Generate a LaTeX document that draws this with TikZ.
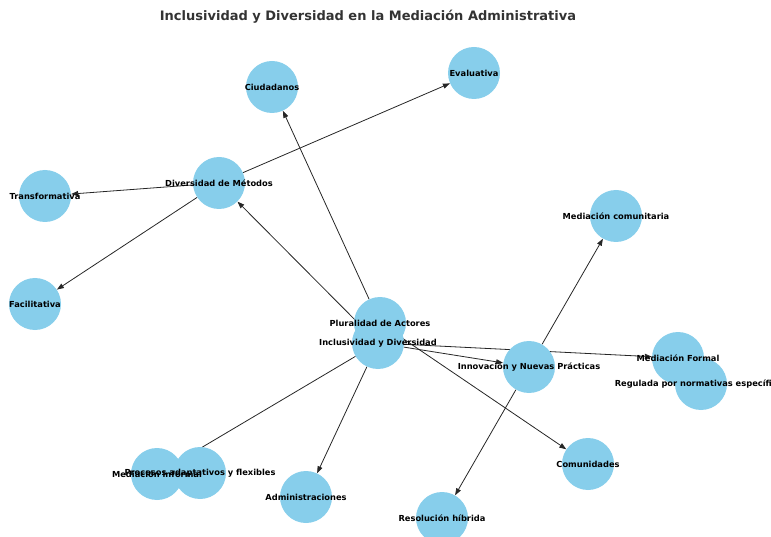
\documentclass[tikz,border=0pt]{standalone}
\usepackage{fontspec}
\setmainfont{DejaVu Sans}
\usetikzlibrary{arrows.meta}
\definecolor{skyblue}{HTML}{87CEEB}
\definecolor{titlegray}{HTML}{333333}
\pgfdeclarelayer{edges}
\pgfdeclarelayer{labels}
\pgfsetlayers{edges,main,labels}

\tikzset{
  vertex/.style={circle, fill=skyblue, minimum size=52pt, inner sep=0pt},
  lbl/.style={font=\bfseries\fontsize{8.3}{10}\selectfont, inner sep=0pt, text=black},
  link/.style={-{Triangle[length=7pt,width=5pt]}, line width=0.8pt, draw=black!85},
}

\begin{document}
\begin{tikzpicture}[x=1pt, y=-1pt]
  \useasboundingbox (0,0) rectangle (771,537);
  \clip (0,0) rectangle (771,537);

  % title
  \node[font=\bfseries\fontsize{13}{16}\selectfont, text=titlegray] (title) at (368,17)
    {Inclusividad y Diversidad en la Mediación Administrativa};

  % circles
  \node[vertex] (plural)  at (380,323) {};
  \node[vertex] (incl)    at (378,343) {};
  \node[vertex] (divm)    at (219,183) {};
  \node[vertex] (transf)  at (45,196)  {};
  \node[vertex] (facil)   at (35,304)  {};
  \node[vertex] (eval)    at (474,73)  {};
  \node[vertex] (ciud)    at (272,87)  {};
  \node[vertex] (medcom)  at (616,216) {};
  \node[vertex] (innov)   at (529,367) {};
  \node[vertex] (medform) at (678,358) {};
  \node[vertex] (regul)   at (701,384) {};
  \node[vertex] (medinf)  at (157,474) {};
  \node[vertex] (proc)    at (200,473) {};
  \node[vertex] (admin)   at (306,497) {};
  \node[vertex] (comun)   at (588,464) {};
  \node[vertex] (resol)   at (442,518) {};

  % connectors, kept beneath the circles
  \begin{pgfonlayer}{edges}
    \draw[link] (incl)   -- (divm);
    \draw[link] (plural) -- (ciud);
    \draw[link] (divm)   -- (transf);
    \draw[link] (divm)   -- (facil);
    \draw[link] (divm)   -- (eval);
    \draw[link] (incl)   -- (innov);
    \draw[link] (incl)   -- (medform);
    \draw[link] (innov)  -- (medcom);
    \draw[link] (innov)  -- (resol);
    \draw[link] (plural) -- (comun);
    \draw[link] (incl)   -- (admin);
    \draw[link] (incl)   -- (medinf);
  \end{pgfonlayer}

  % labels on top of everything
  \begin{pgfonlayer}{labels}
    \node[lbl] (plural-t)  at (plural)  {Pluralidad de Actores};
    \node[lbl] (incl-t)    at (incl)    {Inclusividad y Diversidad};
    \node[lbl] (divm-t)    at (divm)    {Diversidad de Métodos};
    \node[lbl] (transf-t)  at (transf)  {Transformativa};
    \node[lbl] (facil-t)   at (facil)   {Facilitativa};
    \node[lbl] (eval-t)    at (eval)    {Evaluativa};
    \node[lbl] (ciud-t)    at (ciud)    {Ciudadanos};
    \node[lbl] (medcom-t)  at (medcom)  {Mediación comunitaria};
    \node[lbl] (innov-t)   at (innov)   {Innovación y Nuevas Prácticas};
    \node[lbl] (medform-t) at (medform) {Mediación Formal};
    \node[lbl] (regul-t)   at (regul)   {Regulada por normativas específicas};
    \node[lbl] (medinf-t)  at (medinf)  {Mediación informal};
    \node[lbl] (proc-t)    at (proc)    {Procesos adaptativos y flexibles};
    \node[lbl] (admin-t)   at (admin)   {Administraciones};
    \node[lbl] (comun-t)   at (comun)   {Comunidades};
    \node[lbl] (resol-t)   at (resol)   {Resolución híbrida};
  \end{pgfonlayer}
\end{tikzpicture}
\end{document}
